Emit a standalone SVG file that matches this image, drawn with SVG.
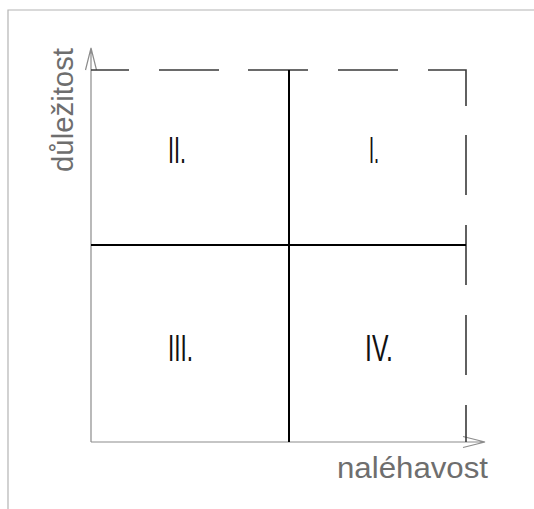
<svg xmlns="http://www.w3.org/2000/svg" width="534" height="509" viewBox="0 0 534 509">
<style>
.frame{fill:none;stroke:#b4b4b4;stroke-width:1.2}
.axis{fill:none;stroke:#8c8c8c;stroke-width:1.2}
.dash{fill:none;stroke:#3a3a3a;stroke-width:1.6}
.quad{fill:none;stroke:#000;stroke-width:2}
.num{font-family:"Liberation Sans",Arial,sans-serif;font-size:36px;fill:#111}
.lab{font-family:"Liberation Sans",Arial,sans-serif;font-size:30px;fill:#6e6e6e}
</style>
<rect width="534" height="509" fill="#fff"/>
<path class="frame" d="M8,509 V10 H534"/>
<g id="connectors">
<g id="axes">
<path class="axis" d="M91,442 V48 M85.5,70 L91,48 L96.5,70"/>
<path class="axis" d="M91,442 H485 M463,436.5 L485,442 L463,447.5"/>
</g>
<g id="outline">
<path class="dash" d="M91,70 H129 M159,70 H219 M248,70 H308 M338,70 H398 M428,70 H466 V106 M466,135 V195 M466,225 V285 M466,315 V375 M466,405 V442"/>
</g>
<g id="dividers">
<path class="quad" d="M289,70 V442 M91,245 H466"/>
</g>
</g>
<g id="q2"><text class="num" x="168" y="163" textLength="18" lengthAdjust="spacingAndGlyphs">II.</text></g>
<g id="q1"><text class="num" x="369" y="163" textLength="10" lengthAdjust="spacingAndGlyphs">I.</text></g>
<g id="q3"><text class="num" x="168" y="361" textLength="25" lengthAdjust="spacingAndGlyphs">III.</text></g>
<g id="q4"><text class="num" x="365" y="361" textLength="28" lengthAdjust="spacingAndGlyphs">IV.</text></g>
<g id="label-y"><text class="lab" transform="translate(73,172) rotate(-90)" textLength="124" lengthAdjust="spacingAndGlyphs">důležitost</text></g>
<g id="label-x"><text class="lab" x="337" y="478" textLength="151" lengthAdjust="spacingAndGlyphs">naléhavost</text></g>
</svg>
